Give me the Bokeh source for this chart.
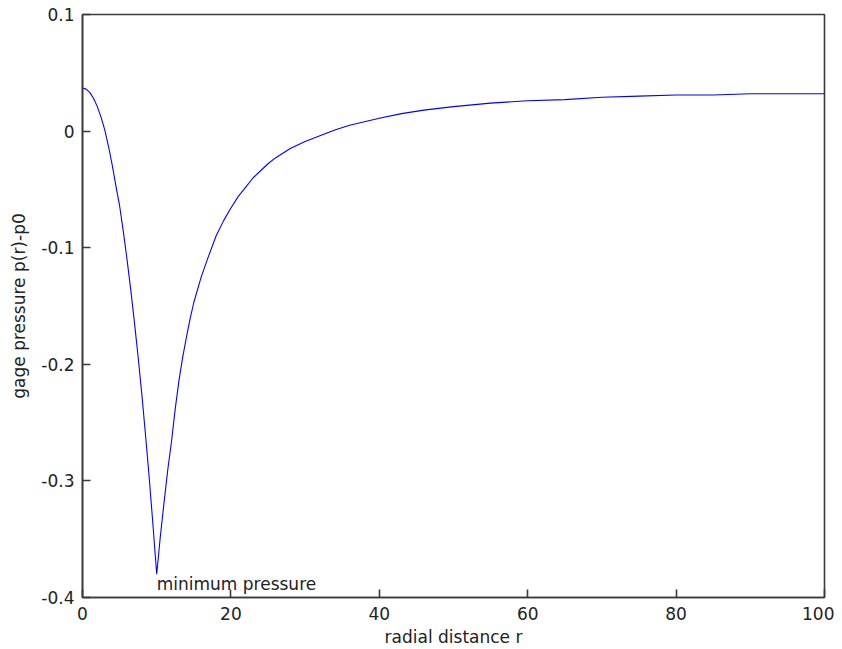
from bokeh.plotting import figure
from bokeh.models import Range1d, FixedTicker, ColumnDataSource
from bokeh.core.properties import value
from bokeh.embed import file_html
from bokeh.resources import INLINE

# radial distance and gage pressure
r_vals = [0, 0.5, 1, 1.5, 2, 2.5, 3, 3.5, 4, 4.5, 5, 5.5, 6, 6.5, 7, 7.5, 8, 8.5, 9, 9.5,
          10, 10.5, 11, 11.5, 12, 12.5, 13, 13.5, 14, 14.5, 15, 16, 17, 18, 19, 20,
          21, 22, 23, 24, 25, 26, 27, 28, 29, 30, 32, 34, 36, 38, 40, 43, 46, 50,
          55, 60, 65, 70, 75, 80, 85, 90, 95, 100]
p_vals = [0.037, 0.036, 0.033, 0.028, 0.021, 0.012, 0.001, -0.013, -0.029, -0.047,
          -0.064, -0.086, -0.110, -0.136, -0.164, -0.194, -0.226, -0.261, -0.298, -0.338,
          -0.380, -0.347, -0.318, -0.290, -0.266, -0.238, -0.214, -0.194, -0.177, -0.161,
          -0.147, -0.125, -0.107, -0.090, -0.077, -0.066, -0.056, -0.048, -0.040, -0.034,
          -0.028, -0.023, -0.019, -0.015, -0.012, -0.009, -0.004, 0.001, 0.005, 0.008,
          0.011, 0.015, 0.018, 0.021, 0.024, 0.026, 0.027, 0.029, 0.030, 0.031,
          0.031, 0.032, 0.032, 0.032]

x_ticks = [0, 20, 40, 60, 80, 100]
y_ticks = [-0.4, -0.3, -0.2, -0.1, 0.0, 0.1]
y_tick_labels = ["-0.4", "-0.3", "-0.2", "-0.1", "0", "0.1"]

ann_x = [10]
ann_y = [-0.38]
ann_text = ["minimum pressure"]

FONT = "DejaVu Sans"
FS = "17px"
AX = "#3a3a3a"
TXT = "#222222"

p = figure(width=834, height=649, output_backend="svg", toolbar_location=None,
           x_range=Range1d(0, 100), y_range=Range1d(-0.4, 0.1),
           min_border_left=82, min_border_right=10, min_border_top=14, min_border_bottom=50)
p.grid.visible = False
p.background_fill_color = "white"
p.border_fill_color = "white"
p.outline_line_color = AX
p.outline_line_width = 1.6

src = ColumnDataSource(dict(r=r_vals, p=p_vals))
p.line("r", "p", source=src, line_color="#0000ff", line_width=1.1)

tsrc = ColumnDataSource(dict(x=ann_x, y=ann_y, t=ann_text))
p.text("x", "y", text="t", source=tsrc, text_font=value(FONT), text_font_size=FS,
       text_color=TXT, text_baseline="top", text_align="left", y_offset=0)

for ax in (p.xaxis[0], p.yaxis[0]):
    ax.axis_line_color = AX
    ax.axis_line_width = 1.6
    ax.major_tick_in = 8
    ax.major_tick_out = 0
    ax.major_tick_line_color = AX
    ax.major_tick_line_width = 1.6
    ax.minor_tick_line_color = None
    ax.major_label_text_font = FONT
    ax.major_label_text_font_size = FS
    ax.major_label_text_color = TXT
    ax.axis_label_text_font = FONT
    ax.axis_label_text_font_size = FS
    ax.axis_label_text_font_style = "normal"
    ax.axis_label_text_color = TXT

p.xaxis[0].ticker = FixedTicker(ticks=x_ticks)
p.yaxis[0].ticker = FixedTicker(ticks=y_ticks)
p.yaxis[0].major_label_overrides = {t: l for t, l in zip(y_ticks, y_tick_labels)}
p.xaxis[0].axis_label = "radial distance r"
p.yaxis[0].axis_label = "gage pressure p(r)-p0"
p.xaxis[0].major_label_standoff = 9
p.xaxis[0].axis_label_standoff = 4
p.yaxis[0].major_label_standoff = 8
p.yaxis[0].axis_label_standoff = 9

open("out.html", "w").write(file_html(p, INLINE))
